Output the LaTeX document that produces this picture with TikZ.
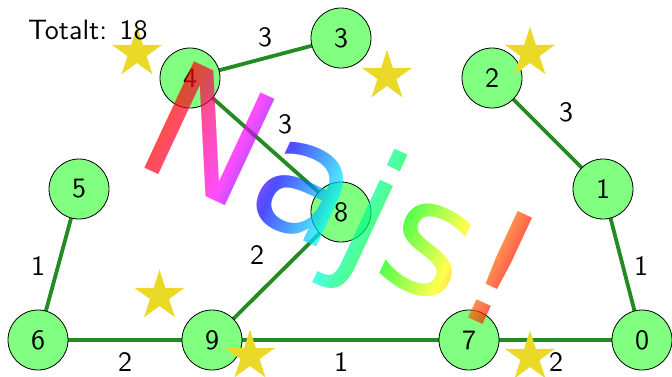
\documentclass[tikz,border=0pt]{standalone}
\usepackage{fontspec}
\usepackage{graphicx}
\usetikzlibrary{fadings}
\newfontfamily\najsfont{DejaVu Sans}
\definecolor{edgegreen}{RGB}{34,139,34}
\definecolor{nodegreen}{RGB}{128,255,128}
\definecolor{staryellow}{RGB}{235,217,40}
\newcommand\lbltxt[1]{\scalebox{2.8}{\sffamily #1}}
\pgfdeclarehorizontalshading{najsrainbow}{100bp}{color(0bp)=(red); color(50.83bp)=(red); color(55bp)=(magenta); color(57.78bp)=(blue); color(61.39bp)=(cyan); color(65bp)=(green); color(68.33bp)=(yellow); color(71.94bp)=(red); color(100bp)=(red)}
\tikzset{ystar/.pic={\fill[staryellow] (90:26.3pt) -- (126:10pt) -- (162:26.3pt) -- (198:10pt) -- (234:26.3pt) -- (270:10pt) -- (306:26.3pt) -- (342:10pt) -- (18:26.3pt) -- (54:10pt) -- cycle;}}
\begin{document}
\pgfdeclarefading{najsfade}{%
  \begin{pgfpicture}
    \pgfpathrectangle{\pgfpoint{-700pt}{-700pt}}{\pgfpoint{1400pt}{1400pt}}%
    \pgfusepath{use as bounding box}%
    \begin{pgfscope}%
      \pgftransformshift{\pgfpoint{131pt}{-161pt}}%
      \pgftext[base,left,rotate=-25]{\color{pgftransparent!30}\najsfont\fontsize{161}{161}\selectfont Najs!}%
    \end{pgfscope}%
  \end{pgfpicture}}%
\begin{tikzpicture}[x=1pt,y=1pt,
  vertex/.style={circle, draw=black, line width=0.8pt, fill=nodegreen, minimum size=60pt, inner sep=0pt},
  edge/.style={draw=edgegreen, line width=3.8pt},
  wlabel/.style={inner sep=0pt}]
\useasboundingbox (0,0) rectangle (672,-376);
% node positions
\coordinate (p0) at (642,-340);
\coordinate (p1) at (603,-189);
\coordinate (p2) at (492,-78);
\coordinate (p3) at (341,-38);
\coordinate (p4) at (190,-78);
\coordinate (p5) at (79,-189);
\coordinate (p6) at (38,-340);
\coordinate (p7) at (469,-340);
\coordinate (p8) at (341,-212);
\coordinate (p9) at (212,-340);
% edges
\draw[edge] (p4) -- (p3);
\draw[edge] (p4) -- (p8);
\draw[edge] (p8) -- (p9);
\draw[edge] (p5) -- (p6);
\draw[edge] (p6) -- (p9);
\draw[edge] (p9) -- (p7);
\draw[edge] (p7) -- (p0);
\draw[edge] (p0) -- (p1);
\draw[edge] (p1) -- (p2);
% vertices
\node[vertex] (n0) at (p0) {\lbltxt{0}};
\node[vertex] (n1) at (p1) {\lbltxt{1}};
\node[vertex] (n2) at (p2) {\lbltxt{2}};
\node[vertex] (n3) at (p3) {\lbltxt{3}};
\node[vertex] (n4) at (p4) {\lbltxt{4}};
\node[vertex] (n5) at (p5) {\lbltxt{5}};
\node[vertex] (n6) at (p6) {\lbltxt{6}};
\node[vertex] (n7) at (p7) {\lbltxt{7}};
\node[vertex] (n8) at (p8) {\lbltxt{8}};
\node[vertex] (n9) at (p9) {\lbltxt{9}};
% stars
\pic at (137,-53) {ystar};
\pic at (387,-76) {ystar};
\pic at (530,-53) {ystar};
\pic at (159.5,-296) {ystar};
\pic at (250,-356) {ystar};
\pic at (530,-357) {ystar};
% edge weights
\node[wlabel] (w43) at (265,-37) {\lbltxt{3}};
\node[wlabel] (w48) at (285,-124) {\lbltxt{3}};
\node[wlabel] (w21) at (566,-112) {\lbltxt{3}};
\node[wlabel] (w10) at (641,-266) {\lbltxt{1}};
\node[wlabel] (w56) at (38,-266) {\lbltxt{1}};
\node[wlabel] (w89) at (257,-255) {\lbltxt{2}};
\node[wlabel] (w69) at (125,-362) {\lbltxt{2}};
\node[wlabel] (w97) at (341,-362) {\lbltxt{1}};
\node[wlabel] (w70) at (556,-362) {\lbltxt{2}};
% total
\node[wlabel, anchor=base west] (total) at (28,-39) {\lbltxt{Totalt: 18}};
% Najs!
\coordinate (najsorigin) at (131,-161);
\shade[shading=najsrainbow, shading angle=-25, path fading=najsfade, fit fading=false]
  ([shift={(-450,-450)}]najsorigin) rectangle ([shift={(450,450)}]najsorigin);
\end{tikzpicture}
\end{document}
